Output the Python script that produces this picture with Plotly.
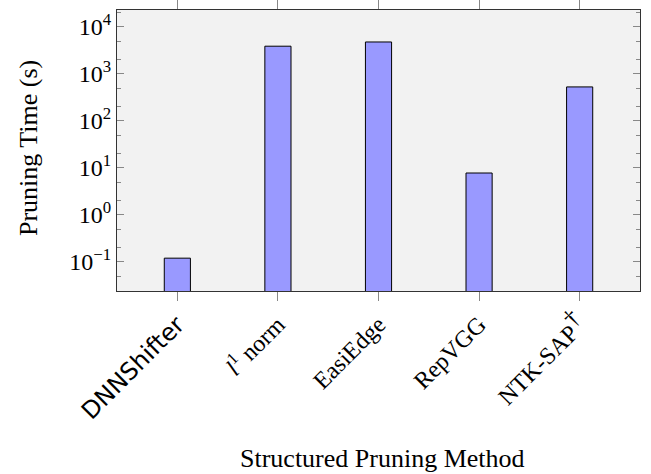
import plotly.graph_objects as go
import math

methods = ["DNNShifter", "l1 norm", "EasiEdge", "RepVGG", "NTK-SAP"]
tick_labels = [
    "<span style='font-family:DejaVu Sans'>DNNShifter</span>",
    "<i>l</i><sup>1</sup> norm",
    "EasiEdge",
    "RepVGG",
    "NTK-SAP<sup><span style='font-size:24px'>†</span></sup>",
]
pruning_time = [0.12, 3900, 4800, 7.8, 530]
y_tick_vals = [0.1, 1, 10, 100, 1000, 10000]
y_tick_text = ["10<sup>−1</sup>", "10<sup>0</sup>", "10<sup>1</sup>",
               "10<sup>2</sup>", "10<sup>3</sup>", "10<sup>4</sup>"]
x_title = "Structured Pruning Method"
y_title = "Pruning Time (s)"

SERIF = "Liberation Serif"

fig = go.Figure()
fig.add_trace(go.Bar(
    x=list(range(len(methods))),
    y=pruning_time,
    width=0.26,
    marker=dict(color="#9999ff", line=dict(color="black", width=1)),
))

fig.update_layout(
    width=651, height=474,
    margin=dict(l=117, r=11, t=10, b=183, autoexpand=False),
    paper_bgcolor="white",
    plot_bgcolor="#f2f2f2",
    font=dict(family=SERIF, size=24, color="black"),
    showlegend=False,
)
fig.update_xaxes(
    automargin=False,
    range=[-0.6, 4.6],
    tickmode="array",
    tickvals=list(range(len(methods))),
    ticktext=tick_labels,
    tickangle=-45,
    ticks="outside", ticklen=9, tickcolor="#888888",
    showline=True, linecolor="#333333", linewidth=1, mirror="allticks",
    showgrid=False, zeroline=False,
    tickfont=dict(family=SERIF, size=24),
)
fig.update_yaxes(
    automargin=False,
    type="log",
    range=[math.log10(0.024), math.log10(23000)],
    tickmode="array",
    tickvals=y_tick_vals,
    ticktext=y_tick_text,
    ticks="inside", ticklen=7, tickcolor="#888888",
    minor=dict(ticks="inside", ticklen=4, tickcolor="#888888", showgrid=False),
    showline=True, linecolor="#333333", linewidth=1, mirror="allticks",
    showgrid=False, zeroline=False,
    tickfont=dict(family=SERIF, size=24),
)
fig.add_annotation(text=x_title, xref="paper", yref="paper",
                   x=(382 - 117) / 523, y=(291 - 458) / 281,
                   xanchor="center", yanchor="middle", showarrow=False,
                   font=dict(family=SERIF, size=26))
fig.add_annotation(text=y_title, xref="paper", yref="paper",
                   x=(28 - 117) / 523, y=(291 - 148) / 281,
                   xanchor="center", yanchor="middle", showarrow=False,
                   textangle=-90, font=dict(family=SERIF, size=26))

fig.write_html("out.html", config={"displayModeBar": False},
               post_script="document.body.style.margin='0';")
